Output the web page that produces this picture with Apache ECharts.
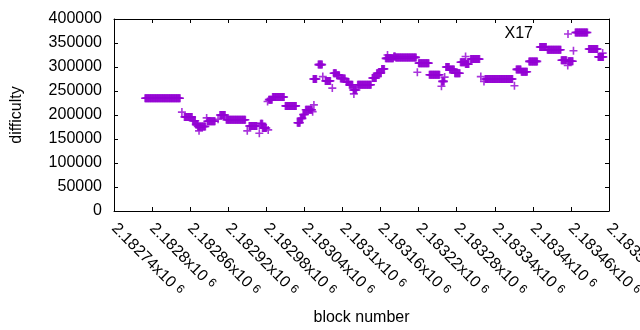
<!DOCTYPE html>
<html>
<head>
<meta charset="utf-8">
<title>X17 difficulty</title>
<script src="https://cdn.jsdelivr.net/npm/echarts@6.0.0/dist/echarts.min.js"></script>
<style>
  html, body { margin: 0; padding: 0; background: #fff; }
  #chart { width: 640px; height: 330px; }
</style>
</head>
<body>
<div id="chart"></div>
<script>
// runs of blocks sharing the same difficulty (first block, last block, value)
const runStart = [2182789, 2182851, 2182864, 2182869, 2182872, 2182887, 2182907, 2182917, 2182953, 2182971,
  2182974, 2182984, 2182990, 2183010, 2183029, 2183034, 2183038, 2183042, 2183054, 2183062,
  2183073, 2183086, 2183091, 2183097, 2183106, 2183111, 2183117, 2183124, 2183147, 2183154,
  2183162, 2183168, 2183181, 2183184, 2183220, 2183237, 2183257, 2183263, 2183269, 2183277,
  2183286, 2183294, 2183302, 2183325, 2183374, 2183382, 2183394, 2183411, 2183423, 2183445,
  2183456, 2183467, 2183488, 2183503]
const runEnd = [2182844, 2182863, 2182868, 2182872, 2182884, 2182899, 2182915, 2182947, 2182965, 2182974,
  2182980, 2182989, 2183008, 2183027, 2183033, 2183037, 2183041, 2183052, 2183059, 2183068,
  2183081, 2183090, 2183095, 2183104, 2183110, 2183116, 2183122, 2183145, 2183153, 2183161,
  2183166, 2183180, 2183183, 2183216, 2183236, 2183253, 2183260, 2183268, 2183276, 2183285,
  2183293, 2183299, 2183316, 2183368, 2183381, 2183391, 2183407, 2183421, 2183444, 2183453,
  2183463, 2183486, 2183502, 2183511]
const runValue = [235000, 196000, 188000, 180000, 176000, 187000, 200000, 190000, 177000, 182000,
  173000, 232000, 237500, 219000, 184000, 193000, 201000, 211000, 275000, 305000,
  271000, 287000, 283000, 276000, 269000, 263000, 252000, 263000, 277000, 287000,
  296000, 318000, 322000, 320000, 308000, 284000, 270000, 300000, 295000, 287000,
  310000, 306000, 316500, 275000, 295000, 290000, 311700, 341700, 336000, 314000,
  312000, 372000, 337500, 321000]

// isolated blocks
const singleBlock = [2182847, 2182874, 2182886, 2182904, 2182950, 2182969, 2182982, 2182983, 2183053, 2183055,
  2183069, 2183084, 2183118, 2183171, 2183218, 2183256, 2183261, 2183294, 2183318, 2183323,
  2183371, 2183455, 2183464, 2183510]
const singleValue = [206000, 167000, 194000, 191000, 167000, 162000, 228000, 169000, 207000, 221000,
  280000, 256000, 244000, 325000, 289000, 260000, 279000, 322000, 280000, 270000,
  261000, 303000, 334000, 329000]

const xMin = 2182740
const xMax = 2183520
const xStep = 60
const yMax = 400000
const yStep = 50000

const points = []
runStart.forEach((s, i) => {
  for (let b = s; b <= runEnd[i]; b++) points.push([b, runValue[i]])
})
singleBlock.forEach((b, i) => points.push([b, singleValue[i]]))

const plus = 'path://M0,32H32V0H48V32H80V48H48V80H32V48H0Z'
const font = 'Liberation Sans, Arial, sans-serif'
const black = '#000'

const chart = echarts.init(document.getElementById('chart'), null, { renderer: 'canvas' })

const tickStyle = { show: true, inside: true, length: 4, lineStyle: { color: black, width: 1 } }
const lineStyle = { show: true, onZero: false, lineStyle: { color: black, width: 1 } }

chart.setOption({
  animation: false,
  backgroundColor: '#fff',
  textStyle: { fontFamily: font },
  grid: { left: 114, right: 31, top: 19, bottom: 119, containLabel: false, outerBoundsMode: 'none' },
  legend: {
    data: ['X17'],
    right: 68,
    top: 26,
    padding: 0,
    align: 'right',
    icon: plus,
    itemWidth: 8,
    itemHeight: 8,
    textStyle: { fontSize: 16, color: black, fontFamily: font, padding: [0, 26, 0, 0] }
  },
  xAxis: [
    {
      type: 'value',
      position: 'bottom',
      min: xMin,
      max: xMax,
      interval: xStep,
      axisLine: lineStyle,
      axisTick: tickStyle,
      splitLine: { show: false },
      axisLabel: {
        rotate: -45,
        margin: 15,
        color: black,
        fontSize: 16,
        fontFamily: font,
        formatter: v => '{a|' + parseFloat((v / 1e6).toFixed(5)) + 'x10 }{s|6}',
        rich: {
          a: { fontSize: 16, color: black, fontFamily: font },
          s: { fontSize: 12, color: black, fontFamily: font, verticalAlign: 'top' }
        }
      },
      name: 'block number',
      nameLocation: 'middle',
      nameGap: 99,
      nameTextStyle: { fontSize: 16, color: black, fontFamily: font }
    },
    {
      type: 'value',
      position: 'top',
      min: xMin,
      max: xMax,
      interval: xStep,
      axisLine: lineStyle,
      axisTick: tickStyle,
      axisLabel: { show: false },
      splitLine: { show: false }
    }
  ],
  yAxis: [
    {
      type: 'value',
      position: 'left',
      min: 0,
      max: yMax,
      interval: yStep,
      axisLine: lineStyle,
      axisTick: tickStyle,
      splitLine: { show: false },
      axisLabel: { margin: 12, color: black, fontSize: 16, fontFamily: font, formatter: v => String(v) },
      name: 'difficulty',
      nameLocation: 'middle',
      nameGap: 89,
      nameTextStyle: { fontSize: 16, color: black, fontFamily: font }
    },
    {
      type: 'value',
      position: 'right',
      min: 0,
      max: yMax,
      interval: yStep,
      axisLine: lineStyle,
      axisTick: tickStyle,
      axisLabel: { show: false },
      splitLine: { show: false }
    }
  ],
  series: [
    {
      name: 'X17',
      type: 'scatter',
      xAxisIndex: 0,
      yAxisIndex: 0,
      symbol: plus,
      symbolSize: 8,
      itemStyle: { color: '#9400d3' },
      data: points
    }
  ]
})
</script>
</body>
</html>
